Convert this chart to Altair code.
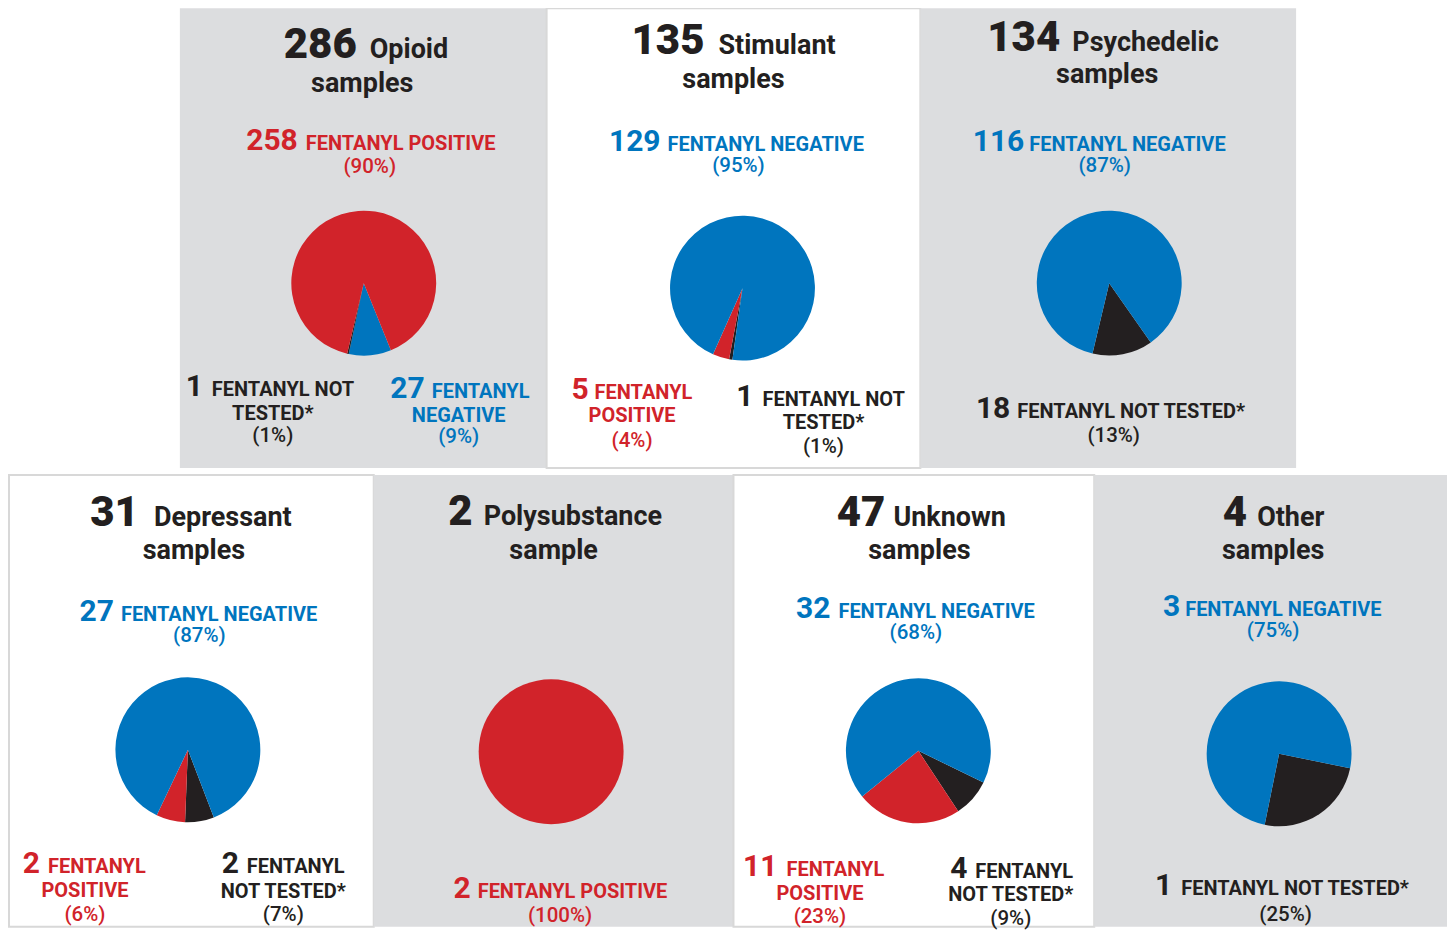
import math
import altair as alt
import pandas as pd

# ---------------- data ----------------
categories = ["Opioid", "Stimulant", "Psychedelic", "Depressant", "Polysubstance", "Unknown", "Other"]
sample_words = ["samples", "samples", "samples", "samples", "sample", "samples", "samples"]
totals = [286, 135, 134, 31, 2, 47, 4]
positive = [258, 5, 0, 2, 2, 11, 0]
negative = [27, 129, 116, 27, 0, 32, 3]
not_tested = [1, 1, 18, 2, 0, 4, 1]
pct_positive = [90, 4, 0, 6, 100, 23, 0]
pct_negative = [9, 95, 87, 87, 0, 68, 75]
pct_not_tested = [1, 1, 13, 7, 0, 9, 25]
result_keys = ["pos", "neg", "nt"]
result_names = ["FENTANYL POSITIVE", "FENTANYL NEGATIVE", "FENTANYL NOT TESTED*"]

# ---------------- styles ----------------
RED = "#d1232a"
BLUE = "#0075be"
BLACK = "#231f20"
GRAY = "#dcdddf"
WHITE = "#ffffff"
BORDER = "#d8d8d8"
FONT = "Roboto"
R = 72.5
key_color = {"pos": RED, "neg": BLUE, "nt": BLACK}
TITLE_NUM_SIZE = 42
LABEL_SIZE = 20
PCT_SIZE = 20.5

# ---------------- layout (panel-relative pixels) ----------------
TOP_H = 460
BOT_H = 452
layouts = [
    dict(w=367, h=TOP_H, bg=GRAY, border=False, start=158, order=["neg", "nt", "pos"], pie=(184, 275),
         title=(177, 190, 50), samples=(182.5, 84),
         labels=[dict(key="pos", nr=118, wl=126, y1=142, n1=None, cx=190, yp=165),
                 dict(key="nt", nr=23, wl=32, y1=388, n1=2, cx=93, y2=412, yp=434),
                 dict(key="neg", nr=245, wl=252, y1=390, n1=1, cx=279, y2=414, yp=435)]),
    dict(w=374, h=TOP_H, bg=WHITE, border=True, start=188, order=["nt", "pos", "neg"], pie=(196, 280),
         title=(158, 172, 46), samples=(187, 80),
         labels=[dict(key="neg", nr=114, wl=121, y1=143, n1=None, cx=192, yp=164),
                 dict(key="pos", nr=42, wl=48, y1=391, n1=1, cx=85.5, y2=414, yp=439),
                 dict(key="nt", nr=207, wl=216, y1=398, n1=2, cx=277, y2=421, yp=445)]),
    dict(w=376, h=TOP_H, bg=GRAY, border=False, start=145, order=["nt", "neg"], pie=(189, 275),
         title=(140, 152, 43), samples=(187, 75),
         labels=[dict(key="neg", nr=104, wl=109, y1=143, n1=None, cx=184.5, yp=164),
                 dict(key="nt", nr=90, wl=97, y1=410, n1=None, cx=193.5, yp=434)]),
    dict(w=365, h=BOT_H, bg=WHITE, border=True, start=159, order=["nt", "pos", "neg"], pie=(179, 275),
         title=(130, 145, 51), samples=(185, 84),
         labels=[dict(key="neg", nr=105, wl=112, y1=146, n1=None, cx=190.5, yp=167),
                 dict(key="pos", nr=31, wl=39, y1=398, n1=1, cx=76, y2=422, yp=446),
                 dict(key="nt", nr=230, wl=238, y1=398, n1=1, cx=274.5, y2=423, yp=446)]),
    dict(w=360, h=BOT_H, bg=GRAY, border=False, start=0, order=["pos"], pie=(177.5, 277),
         title=(99, 110, 50), samples=(180, 84),
         labels=[dict(key="pos", nr=97, wl=104, y1=423, n1=None, cx=186.5, yp=447)]),
    dict(w=361, h=BOT_H, bg=WHITE, border=True, start=116, order=["nt", "pos", "neg"], pie=(185, 276),
         title=(152, 160, 51), samples=(186, 84),
         labels=[dict(key="neg", nr=97, wl=105, y1=143, n1=None, cx=182.5, yp=164),
                 dict(key="pos", nr=44, wl=53, y1=401, n1=1, cx=86.5, y2=425, yp=448),
                 dict(key="nt", nr=234, wl=242, y1=403, n1=1, cx=277.5, y2=426, yp=450)]),
    dict(w=353, h=BOT_H, bg=GRAY, border=False, start=101.5, order=["nt", "neg"], pie=(185, 279),
         title=(153, 163, 51), samples=(179, 84),
         labels=[dict(key="neg", nr=86, wl=91, y1=141, n1=None, cx=179, yp=162),
                 dict(key="nt", nr=78, wl=87, y1=420, n1=None, cx=191.5, yp=446)]),
]

STYLES = {
    "tnum": dict(align="right", fontWeight=900),
    "tword": dict(align="left", fontWeight="bold"),
    "tcenter": dict(align="center", fontWeight="bold"),
    "lnum": dict(align="right", fontWeight="bold"),
    "lword": dict(align="left", fontWeight="bold"),
    "lcenter": dict(align="center", fontWeight="bold"),
    "pct": dict(align="center", fontWeight=500),
}


def make_panel(i, lay):
    counts = {"pos": positive[i], "neg": negative[i], "nt": not_tested[i]}
    pcts = {"pos": pct_positive[i], "neg": pct_negative[i], "nt": pct_not_tested[i]}
    names = dict(zip(result_keys, result_names))

    pie_df = pd.DataFrame({
        "key": lay["order"],
        "count": [counts[k] for k in lay["order"]],
        "ord": list(range(len(lay["order"]))),
    })
    s = math.radians(lay["start"])
    cx, cy = lay["pie"]
    pie = alt.Chart(pie_df).mark_arc(radius=R).encode(
        theta=alt.Theta("count:Q", stack=True, scale=alt.Scale(range=[s, s + 2 * math.pi])),
        color=alt.Color("key:N", scale=alt.Scale(domain=result_keys, range=[RED, BLUE, BLACK]), legend=None),
        order=alt.Order("ord:Q"),
        x=alt.value(cx),
        y=alt.value(cy),
    )

    rows = []
    tnr, twl, ty = lay["title"]
    rows.append(dict(text=str(totals[i]), x=tnr, y=ty, size=TITLE_NUM_SIZE, color=BLACK, style="tnum"))
    rows.append(dict(text=categories[i], x=twl, y=ty, size=27, color=BLACK, style="tword"))
    scx, sy = lay["samples"]
    rows.append(dict(text=sample_words[i], x=scx, y=sy, size=27, color=BLACK, style="tcenter"))
    for L in lay["labels"]:
        k = L["key"]
        col = key_color[k]
        words = names[k].split(" ")
        n1 = L["n1"] if L["n1"] is not None else len(words)
        line1 = " ".join(words[:n1])
        line2 = " ".join(words[n1:])
        rows.append(dict(text=str(counts[k]), x=L["nr"], y=L["y1"], size=30, color=col, style="lnum"))
        rows.append(dict(text=line1, x=L["wl"], y=L["y1"], size=LABEL_SIZE, color=col, style="lword"))
        if line2:
            rows.append(dict(text=line2, x=L["cx"], y=L["y2"], size=LABEL_SIZE, color=col, style="lcenter"))
        rows.append(dict(text=f"({pcts[k]}%)", x=L["cx"], y=L["yp"], size=PCT_SIZE, color=col, style="pct"))
    tdf = pd.DataFrame(rows)

    layers = [pie]
    for st, opts in STYLES.items():
        sub = tdf[tdf["style"] == st]
        if sub.empty:
            continue
        layers.append(
            alt.Chart(sub).mark_text(font=FONT, baseline="alphabetic", **opts).encode(
                x=alt.X("x:Q", scale=None, axis=None),
                y=alt.Y("y:Q", scale=None, axis=None),
                text=alt.Text("text:N"),
                size=alt.Size("size:Q", scale=None, legend=None),
                color=alt.Color("color:N", scale=None, legend=None),
            )
        )
    if lay["border"]:
        view = alt.ViewBackground(fill=lay["bg"], stroke=BORDER, strokeWidth=2)
    else:
        view = alt.ViewBackground(fill=lay["bg"], strokeWidth=0)
    return alt.layer(*layers).properties(width=lay["w"], height=lay["h"], view=view)


panels = [make_panel(i, lay) for i, lay in enumerate(layouts)]

# invisible spacer that shifts the top row right
spacer = alt.Chart(pd.DataFrame({"v": [0]})).mark_rule(opacity=0).encode(
    x=alt.value(10), x2=alt.value(10), y=alt.value(100), y2=alt.value(100)
).properties(width=171, height=TOP_H, view=alt.ViewBackground(strokeWidth=0))

top = alt.hconcat(spacer, panels[0], panels[1], panels[2], spacing=0, bounds="flush")
bottom = alt.hconcat(panels[3], panels[4], panels[5], panels[6], spacing=0, bounds="flush")

chart = alt.vconcat(
    top, bottom, spacing=5,
    padding={"left": 0, "top": -1, "right": 0, "bottom": 0},
).configure_view(strokeWidth=0)

chart.save("out.html", embed_options={"renderer": "svg", "actions": False})
